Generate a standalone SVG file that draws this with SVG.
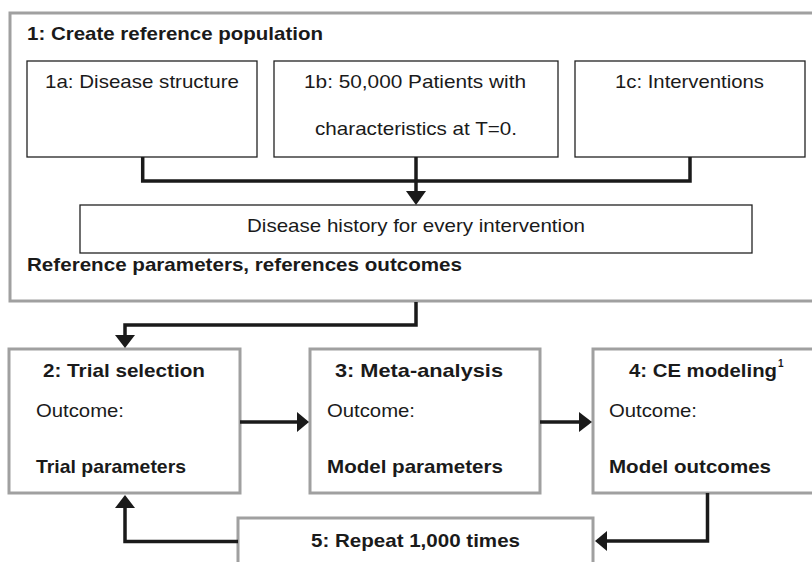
<svg xmlns="http://www.w3.org/2000/svg" width="812" height="562" viewBox="0 0 812 562">
<style>
.gbox{fill:#fff;stroke:#a0a0a0;stroke-width:3}
.kbox{fill:#fff;stroke:#222;stroke-width:1.3}
.t{font-family:"Liberation Sans",Arial,sans-serif;font-size:18.5px;fill:#1a1a1a}
.b{font-weight:bold}
.m{text-anchor:middle}
.c{fill:none;stroke:#1a1a1a;stroke-width:3.5}
.ah{fill:#1a1a1a}
</style>
<rect width="812" height="562" fill="#fff"/>
<g id="n1">
<rect class="gbox" x="10" y="13" width="804" height="288"/>
<text class="t b" x="27" y="40" textLength="296" lengthAdjust="spacingAndGlyphs">1: Create reference population</text>
<text class="t b" x="27" y="270.5" textLength="435" lengthAdjust="spacingAndGlyphs">Reference parameters, references outcomes</text>
</g>
<g id="n1a">
<rect class="kbox" x="27" y="61" width="230" height="96"/>
<text class="t m" x="142" y="88" textLength="194" lengthAdjust="spacingAndGlyphs">1a: Disease structure</text>
</g>
<g id="n1b">
<rect class="kbox" x="274" y="61" width="284" height="96"/>
<text class="t m" x="415" y="88" textLength="222" lengthAdjust="spacingAndGlyphs">1b: 50,000 Patients with</text>
<text class="t m" x="416" y="135" textLength="202" lengthAdjust="spacingAndGlyphs">characteristics at T=0.</text>
</g>
<g id="n1c">
<rect class="kbox" x="575" y="61" width="230" height="96"/>
<text class="t m" x="689.5" y="88" textLength="149" lengthAdjust="spacingAndGlyphs">1c: Interventions</text>
</g>
<g id="nhist">
<rect class="kbox" x="80" y="205" width="672" height="48"/>
<text class="t m" x="416" y="232" textLength="338" lengthAdjust="spacingAndGlyphs">Disease history for every intervention</text>
</g>
<g id="n2">
<rect class="gbox" x="9" y="349" width="231" height="144"/>
<text class="t b m" x="124" y="377" textLength="162" lengthAdjust="spacingAndGlyphs">2: Trial selection</text>
<text class="t" x="36" y="417" textLength="88" lengthAdjust="spacingAndGlyphs">Outcome:</text>
<text class="t b" x="36" y="473" textLength="150" lengthAdjust="spacingAndGlyphs">Trial parameters</text>
</g>
<g id="n3">
<rect class="gbox" x="310" y="349" width="230" height="144"/>
<text class="t b" x="335" y="377" textLength="168" lengthAdjust="spacingAndGlyphs">3: Meta-analysis</text>
<text class="t" x="327" y="417" textLength="88" lengthAdjust="spacingAndGlyphs">Outcome:</text>
<text class="t b" x="327" y="473" textLength="176" lengthAdjust="spacingAndGlyphs">Model parameters</text>
</g>
<g id="n4">
<rect class="gbox" x="593" y="349" width="222" height="144"/>
<text class="t b" x="629" y="377" textLength="148" lengthAdjust="spacingAndGlyphs">4: CE modeling</text>
<text class="t b" x="778" y="367" style="font-size:10px">1</text>
<text class="t" x="609" y="417" textLength="88" lengthAdjust="spacingAndGlyphs">Outcome:</text>
<text class="t b" x="609" y="473" textLength="162" lengthAdjust="spacingAndGlyphs">Model outcomes</text>
</g>
<g id="n5">
<rect class="gbox" x="238" y="518" width="355" height="60"/>
<text class="t b m" x="415.5" y="547" textLength="209" lengthAdjust="spacingAndGlyphs">5: Repeat 1,000 times</text>
</g>
<g id="connectors">
<path class="c" d="M142.7,157 V181 H690 V157"/>
<path class="c" d="M416,157 V192"/>
<polygon class="ah" points="406,191 426,191 416,205"/>
<path class="c" d="M416,302 V325 H125 V336"/>
<polygon class="ah" points="115,335 135,335 125,348"/>
<path class="c" d="M240,422 H298"/>
<polygon class="ah" points="297,412 297,432 309,422"/>
<path class="c" d="M540,422 H580"/>
<polygon class="ah" points="579,412 579,432 592,422"/>
<path class="c" d="M707.5,493 V541 H607"/>
<polygon class="ah" points="607,531 607,551 595,541"/>
<path class="c" d="M238,541.5 H125 V507"/>
<polygon class="ah" points="115,508 135,508 125,495"/>
</g>
</svg>
